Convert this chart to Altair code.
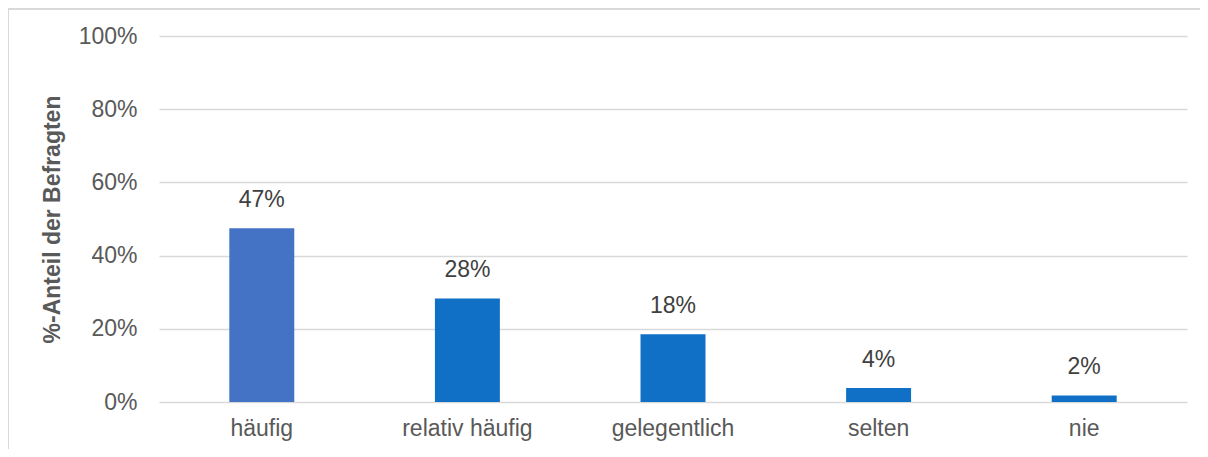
import altair as alt
import pandas as pd

categories = ["häufig", "relativ häufig", "gelegentlich", "selten", "nie"]
values = [0.475, 0.283, 0.185, 0.038, 0.018]
labels = ["47%", "28%", "18%", "4%", "2%"]
colors = ["#4472C4", "#1070C6", "#1070C6", "#1070C6", "#1070C6"]

df = pd.DataFrame({"cat": categories, "val": values, "lab": labels, "col": colors})

FONT = "Liberation Sans"
FS = 23

x_enc = alt.X("cat:N", sort=categories, title=None,
              scale=alt.Scale(paddingInner=0.684, paddingOuter=0.342),
              axis=alt.Axis(labelAngle=0, labelFontSize=FS, labelColor="#595959",
                            labelFont=FONT, labelPadding=15, ticks=False,
                            domain=False, grid=False))
y_enc = alt.Y("val:Q", title="%-Anteil der Befragten",
              scale=alt.Scale(domain=[0, 1], nice=False),
              axis=alt.Axis(values=[0, 0.2, 0.4, 0.6, 0.8, 1.0], format=".0%",
                            labelFontSize=FS, labelColor="#595959", labelFont=FONT,
                            labelPadding=22, ticks=False, domain=False,
                            grid=True, gridColor="#d9d9d9", gridWidth=1.5,
                            titleFont=FONT, titleFontSize=FS, titleFontWeight="bold",
                            titleColor="#595959", titleAngle=270, titleX=-107,
                            titleY=183, titleBaseline="middle", titleAlign="center"))

one = pd.DataFrame({"a": [0]})
border_top = alt.Chart(one).mark_rule(color="#d9d9d9", strokeWidth=2).encode(
    x=alt.value(-151), x2=alt.value(1041), y=alt.value(-27))
border_left = alt.Chart(one).mark_rule(color="#d9d9d9", strokeWidth=2).encode(
    x=alt.value(-151), y=alt.value(-27), y2=alt.value(413))

bars = alt.Chart(df).mark_bar().encode(
    x=x_enc, y=y_enc, color=alt.Color("col:N", scale=None)
)

text = alt.Chart(df).mark_text(
    baseline="bottom", dy=-16, fontSize=FS, font=FONT, color="#404040"
).encode(x=alt.X("cat:N", sort=categories), y="val:Q", text="lab:N")

chart = alt.layer(border_top, border_left, bars, text).properties(
    width=1028, height=366,
    autosize=alt.AutoSizeParams(type="none"),
    padding={"left": 151, "top": 28, "right": 13, "bottom": 47},
).configure(background="transparent").configure_view(stroke=None)

chart.save("out.html", embed_options={"renderer": "svg", "actions": False})
